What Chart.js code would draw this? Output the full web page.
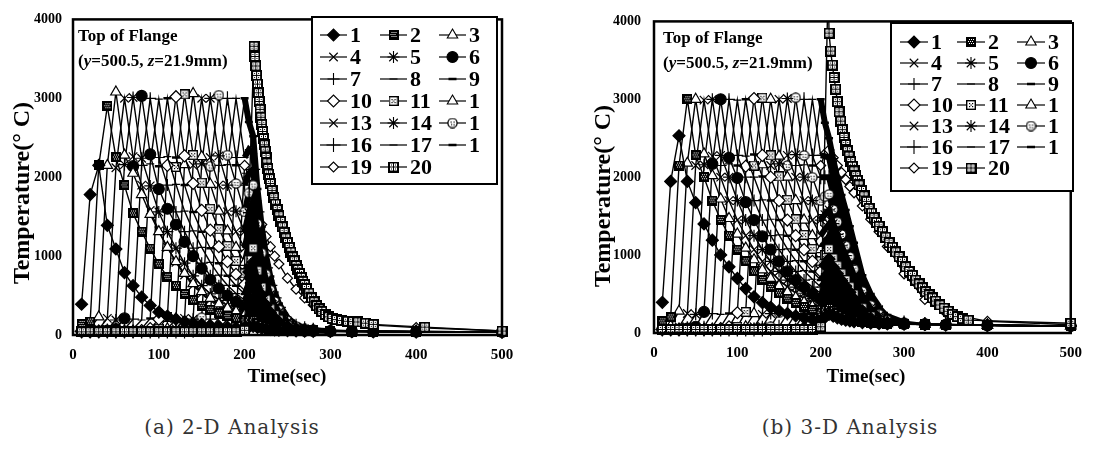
<!DOCTYPE html>
<html>
<head>
<meta charset="utf-8">
<script src="https://cdn.jsdelivr.net/npm/chart.js@4.4.1/dist/chart.umd.min.js"></script>
<style>
  body { margin: 0; background: #fff; width: 1093px; height: 455px; position: relative; overflow: hidden; }
  canvas { position: absolute; top: 0; }
  #chartA { left: 0; }
  #chartB { left: 546px; }
  .caption { position: absolute; top: 415px; font: 20px "DejaVu Serif", serif; color: #333; white-space: nowrap; transform: translateX(-50%); letter-spacing: 1px; }
</style>
</head>
<body>
<canvas id="chartA" width="546" height="400"></canvas>
<canvas id="chartB" width="547" height="400"></canvas>
<div class="caption" style="left:232px">(a) 2-D Analysis</div>
<div class="caption" style="left:850px">(b) 3-D Analysis</div>
<script>
// time steps (sec): heating phase, then cooling phase
const heatTimes = [10,20,30,40,50,60,70,80,90,100,110,120,130,140,150,160,170,180,190,200];
const coolTimes = [205,210,215,220,225,230,235,240,250,260,270,280,300,325,350,400,500];
const legendLabels = ['1','2','3','4','5','6','7','8','9','10','11','1','13','14','1','16','17','1','19','20'];

// ---- (a) 2-D analysis, series 1..19 : 20 heating values + 17 cooling values
const a1  = [390,1780,2150,1390,1090,790,625,480,375,290,240,200,170,150,135,120,110,100,95,90, 100,110,95,84,76,70,65,61,56,52,49,47,45,44,43,41,40];
const a2  = [140,170,2150,2900,2250,1896,1540,1310,1096,896,737,625,520,440,370,320,275,240,210,185, 185,185,150,125,106,92,81,73,61,54,50,48,46,44,43,41,40];
const a3  = [45,80,230,2150,3080,2280,2050,1780,1530,1310,1110,930,780,650,550,465,395,340,295,255, 260,265,210,168,137,114,97,84,67,58,53,50,48,45,43,42,40];
const a4  = [45,50,75,210,2120,3000,2260,1900,1580,1320,1110,920,760,630,525,445,375,320,275,240, 250,260,205,163,132,110,94,82,66,57,52,50,47,45,43,42,40];
const a5  = [45,45,50,70,190,2160,3010,2240,1890,1560,1310,1100,910,750,625,520,440,370,320,275, 300,320,245,190,152,124,104,90,70,59,53,50,48,46,44,42,40];
const a6  = [45,45,45,55,75,210,2140,3030,2290,1850,1600,1400,1180,1000,840,700,590,500,420,360, 390,420,315,240,186,148,121,102,77,63,55,51,48,46,44,42,40];
const a7  = [45,45,45,45,55,75,200,2150,3000,2250,1900,1560,1310,1100,910,750,625,520,440,370, 440,500,375,285,218,170,137,112,82,65,56,52,49,46,44,42,40];
const a8  = [45,45,45,45,45,55,75,190,2170,2990,2260,1910,1570,1320,1110,920,760,630,525,440, 540,620,460,345,260,200,158,126,90,68,58,53,50,47,44,42,40];
const a9  = [45,45,45,45,45,45,55,80,210,2140,3000,2250,1900,1560,1310,1100,910,750,625,520, 660,760,565,420,315,240,185,145,98,72,60,55,50,47,44,42,40];
const a10 = [45,45,45,45,45,45,45,55,80,200,2150,3020,2270,1920,1580,1330,1120,930,770,640, 800,920,680,505,380,285,215,168,108,76,62,56,51,48,45,42,40];
const a11 = [45,45,45,45,45,45,45,45,55,80,230,2130,3050,2280,1930,1600,1340,1130,940,780, 950,1100,815,605,450,335,255,195,120,82,65,58,52,48,45,42,40];
const a12 = [45,45,45,45,45,45,45,45,45,55,80,200,2160,3060,2260,1910,1570,1320,1110,920, 1150,1300,960,710,530,395,295,225,135,88,68,60,53,49,45,42,40];
const a13 = [45,45,45,45,45,45,45,45,45,45,55,80,210,2150,3000,2250,1900,1560,1310,1100, 1350,1500,1110,820,610,450,335,255,150,95,72,62,54,50,46,42,40];
const a14 = [45,45,45,45,45,45,45,45,45,45,45,55,80,200,2170,3000,2270,1900,1570,1310, 1550,1700,1260,930,690,510,380,285,165,102,76,64,55,50,46,43,40];
const a15 = [45,45,45,45,45,45,45,45,45,45,45,45,55,80,220,2140,3040,2280,1920,1560, 1800,1900,1410,1040,770,570,425,320,180,110,80,66,56,51,47,43,40];
const a16 = [45,45,45,45,45,45,45,45,45,45,45,45,45,55,80,200,2150,3000,2250,1900, 2050,2100,1560,1150,850,630,470,350,195,118,85,68,57,52,48,44,40];
const a17 = [45,45,45,45,45,45,45,45,45,45,45,45,45,45,55,80,210,2160,3000,2250, 2350,2300,1700,1260,930,690,510,380,210,125,88,70,58,53,48,44,40];
const a18 = [45,45,45,45,45,45,45,45,45,45,45,45,45,45,45,55,80,200,2150,3000, 2700,2520,1850,1370,1010,740,540,400,220,130,90,72,60,55,50,45,40];
const a19 = [45,45,45,45,45,45,45,45,45,45,45,45,45,45,45,45,55,80,210,2150, 2000,1750,1560,1400,1250,1120,1000,900,720,580,470,380,210,150,125,95,50];
// series 20 (a): heating values, then its own dense cooling record
const a20Heat = [40,40,40,40,40,40,40,40,40,40,40,40,40,40,40,40,40,40,40,60];
const a20CoolTimes = [211,212,213,214,215,216,217,218,219,220,221,222,223,224,225,226,227,228,229,230,
  232,234,236,238,240,242,244,246,248,250,252,254,256,258,260,262,264,266,268,270,
  272,275,278,281,284,287,290,294,298,302,307,313,320,326,332,341,350,410,500];
const a20Cool = [3660,3530,3410,3290,3180,3070,2960,2860,2760,2670,2580,2490,2410,2330,2250,2180,2110,2040,1980,1920,
  1830,1740,1660,1590,1510,1440,1370,1300,1230,1170,1110,1050,990,940,880,830,780,730,680,640,
  590,530,470,420,370,330,300,260,230,210,195,185,175,170,165,150,135,100,50];

// ---- (b) 3-D analysis
const b1  = [394,1946,2532,1946,1673,1400,1191,1002,850,700,570,465,390,330,285,250,220,195,172,155, 200,240,215,195,178,165,155,146,134,126,121,118,113,109,105,98,90];
const b2  = [150,200,2150,3000,2280,2000,1700,1450,1250,1070,920,790,680,590,510,440,385,335,295,260, 290,320,285,256,227,202,180,160,138,129,123,119,114,109,105,98,90];
const b3  = [45,90,280,2180,3000,2300,2020,1720,1470,1270,1090,940,810,700,605,525,455,395,345,300, 330,360,320,288,256,227,198,170,143,132,125,120,114,110,105,98,90];
const b4  = [45,50,80,250,2150,2990,2270,2000,1700,1450,1250,1070,920,790,680,590,510,440,385,335, 370,410,365,328,291,258,226,190,150,136,127,121,115,110,105,98,90];
const b5  = [45,45,50,75,240,2160,3000,2280,2000,1700,1450,1250,1070,920,790,680,590,510,440,385, 430,470,418,376,334,296,258,216,160,140,129,122,116,110,105,98,90];
const b6  = [45,45,45,55,80,270,2170,3000,2250,1990,1680,1450,1240,1070,920,790,680,590,510,440, 490,540,480,432,383,340,297,248,172,145,131,124,117,111,106,98,90];
const b7  = [45,45,45,45,55,80,250,2150,3000,2280,2000,1700,1450,1250,1070,920,790,680,590,510, 565,620,552,496,440,390,341,285,190,150,134,125,117,111,106,98,90];
const b8  = [45,45,45,45,45,55,80,240,2170,2990,2270,2000,1710,1460,1260,1080,930,800,690,590, 655,720,640,576,511,454,396,331,216,160,137,127,118,112,106,99,90];
const b9  = [45,45,45,45,45,45,55,80,250,2150,3000,2290,2010,1700,1450,1250,1070,920,790,680, 755,830,740,665,590,523,457,382,250,172,140,128,119,112,107,99,90];
const b10 = [45,45,45,45,45,45,45,55,80,260,2140,3010,2280,2000,1700,1450,1250,1070,920,790, 870,950,845,760,675,600,523,437,285,190,145,130,120,113,107,99,90];
const b11 = [45,45,45,45,45,45,45,45,55,80,270,2150,3020,2280,2010,1710,1460,1260,1080,920, 1000,1080,960,865,765,680,595,497,324,216,155,132,121,113,107,99,90];
const b12 = [45,45,45,45,45,45,45,45,45,55,80,250,2160,3000,2270,2000,1700,1450,1250,1070, 1150,1230,1095,985,875,775,675,565,370,246,170,135,122,114,108,99,90];
const b13 = [45,45,45,45,45,45,45,45,45,45,55,80,240,2150,3000,2280,2000,1700,1450,1250, 1330,1400,1245,1120,995,880,770,645,420,280,190,140,124,114,108,100,90];
const b14 = [45,45,45,45,45,45,45,45,45,45,45,55,80,250,2170,3010,2290,2000,1700,1450, 1520,1580,1405,1265,1120,995,870,727,474,316,215,150,126,115,108,100,90];
const b15 = [45,45,45,45,45,45,45,45,45,45,45,45,55,80,260,2150,3020,2280,2000,1700, 1750,1780,1585,1425,1265,1120,980,820,535,356,242,164,130,116,109,100,90];
const b16 = [45,45,45,45,45,45,45,45,45,45,45,45,45,55,80,250,2150,3000,2280,2000, 2000,2000,1780,1600,1420,1260,1100,920,600,400,272,184,135,117,109,100,90];
const b17 = [45,45,45,45,45,45,45,45,45,45,45,45,45,45,55,80,250,2160,3000,2280, 2270,2250,2000,1800,1600,1420,1240,1035,675,450,306,207,140,118,110,100,90];
const b18 = [45,45,45,45,45,45,45,45,45,45,45,45,45,45,45,55,80,250,2150,3000, 2700,2500,2230,1990,1770,1580,1370,1160,740,500,340,230,150,120,110,100,90];
const b19 = [45,45,45,45,45,45,45,45,45,45,45,45,45,45,45,45,55,80,260,2150, 2300,2350,2250,2150,2060,1970,1880,1800,1630,1460,1300,1110,760,430,260,150,105];
const b20Heat = [45,45,45,45,45,45,45,45,45,45,45,45,45,45,45,45,45,45,45,80];
const b20CoolTimes = [209,210,212,214,216,218,220,222,224,226,228,230,232,234,236,238,240,242,244,246,
  249,252,255,258,261,264,267,270,274,278,282,286,290,294,298,302,306,310,314,318,322,326,330,334,338,
  343,348,353,358,364,370,377,500];
const b20Cool = [4500,3850,3620,3440,3280,3130,2970,2840,2720,2610,2510,2420,2340,2270,2200,2140,2080,2020,1960,1900,
  1830,1760,1690,1600,1540,1480,1420,1370,1300,1230,1160,1100,1040,980,920,850,790,740,680,630,580,530,490,450,410,
  360,320,280,240,210,185,165,125];

const seriesA = [a1,a2,a3,a4,a5,a6,a7,a8,a9,a10,a11,a12,a13,a14,a15,a16,a17,a18,a19];
const seriesB = [b1,b2,b3,b4,b5,b6,b7,b8,b9,b10,b11,b12,b13,b14,b15,b16,b17,b18,b19];

// ---- marker glyphs
function glyph(w, h, draw) {
  const c = document.createElement('canvas');
  c.width = w; c.height = h;
  draw(c.getContext('2d'), w, h);
  return c;
}
const sqDark = glyph(10, 10, (g, w, h) => {
  g.fillStyle = '#000'; g.fillRect(0, 0, w, h);
  g.fillStyle = '#fff';
  for (let y = 2; y < h - 2; y += 2) for (let x = 2; x < w - 2; x += 2) g.fillRect(x + (y % 4 ? 1 : 0), y, 1, 1);
});
const sqOpen = glyph(10, 10, (g, w, h) => {
  g.fillStyle = '#fff'; g.fillRect(0, 0, w, h);
  g.strokeStyle = '#000'; g.lineWidth = 1.4; g.strokeRect(0.7, 0.7, w - 1.4, h - 1.4);
  g.fillStyle = '#000'; [[3,3],[6,3],[3,6],[6,6],[4.5,4.5]].forEach(([x, y]) => g.fillRect(x, y, 1.2, 1.2));
});
const sqPattern = glyph(11, 11, (g, w, h) => {
  g.fillStyle = '#000'; g.fillRect(0, 0, w, h);
  g.fillStyle = '#fff';
  [[2,2],[6,2],[2,6],[6,6]].forEach(([x, y]) => { g.fillRect(x, y, 3, 3); });
  g.fillStyle = '#000';
  [[3,3],[7,3],[3,7],[7,7]].forEach(([x, y]) => g.fillRect(x, y, 1, 1));
});
const circDots = glyph(11, 11, (g, w, h) => {
  g.fillStyle = '#fff'; g.strokeStyle = '#000'; g.lineWidth = 1.3;
  g.beginPath(); g.arc(w / 2, h / 2, 4.6, 0, Math.PI * 2); g.fill(); g.stroke();
  g.fillStyle = '#000'; [[3.5,4],[6.5,4],[4,6.5],[6.5,6.8]].forEach(([x, y]) => g.fillRect(x, y, 1.2, 1.2));
});

const markers = [
  { ps: 'rectRot', r: 6, fill: '#000' },   // 1
  { ps: sqDark, r: 5 },                    // 2
  { ps: 'triangle', r: 6, fill: '#fff' },  // 3
  { ps: 'crossRot', r: 6 },                // 4
  { ps: 'star', r: 6 },                    // 5
  { ps: 'circle', r: 5.5, fill: '#000' },  // 6
  { ps: 'cross', r: 6 },                   // 7
  { ps: 'line', r: 4 },                    // 8
  { ps: 'line', r: 4, bw: 2.5 },           // 9
  { ps: 'rectRot', r: 6, fill: '#fff' },   // 10
  { ps: sqOpen, r: 5 },                    // 11
  { ps: 'triangle', r: 6, fill: '#fff' },  // 12
  { ps: 'crossRot', r: 6 },                // 13
  { ps: 'star', r: 6 },                    // 14
  { ps: circDots, r: 5 },                  // 15
  { ps: 'cross', r: 7 },                   // 16
  { ps: 'line', r: 4 },                    // 17
  { ps: 'line', r: 4, bw: 2.5 },           // 18
  { ps: 'rectRot', r: 5, fill: '#fff' },   // 19
  { ps: sqPattern, r: 5 }                  // 20
];

function toPoints(ts, vs) { return ts.map((t, i) => ({ x: t, y: vs[i] })); }
const allTimes = heatTimes.concat(coolTimes);

// the quench region right after the last pass reads as a solid dark mass in the scan
const inQuench = (x) => x > 200 && x < 290;
function quenchWidth(c) {
  const x0 = c.p0.parsed.x, x1 = c.p1.parsed.x;
  if (x1 > 200 && x0 < 265) return 6;
  if (x1 > 200 && x0 < 295) return 4;
  return 1.4;
}

function styleFor(i, dark) {
  const m = markers[i];
  const fill = m.fill || '#fff';
  return {
    borderColor: '#000', borderWidth: 1.4, tension: 0,
    pointStyle: m.ps, pointRadius: m.r,
    pointBackgroundColor: dark ? (c) => (c.parsed && inQuench(c.parsed.x) ? '#000' : fill) : fill,
    pointBorderColor: '#000',
    pointBorderWidth: m.bw || 1.2,
    segment: dark ? { borderWidth: quenchWidth } : undefined,
    clip: { left: 6, right: 6, top: 0, bottom: 6 }
  };
}

function buildDatasets(list, heat20, coolT20, cool20, slowIdx) {
  const ds = list.map((vals, i) => Object.assign({ label: String(i + 1), data: toPoints(allTimes, vals) }, styleFor(i, i !== slowIdx)));
  ds.push(Object.assign({ label: '20', order: -1,
    data: toPoints(heatTimes, heat20).concat(toPoints(coolT20, cool20)) }, styleFor(19, false)));
  return ds;
}

const SERIF = '"Liberation Serif", "Times New Roman", serif';

function drawMarker(ctx, i, x, y) {
  const m = markers[i];
  ctx.save();
  ctx.fillStyle = m.fill || '#fff';
  ctx.strokeStyle = '#000';
  ctx.lineWidth = m.bw || 1.1;
  Chart.helpers.drawPoint(ctx, { pointStyle: m.ps, radius: m.r, borderWidth: m.bw || 1.1, rotation: 0 }, x, y);
  ctx.restore();
}

function decor(geo) {
  return {
    id: 'decor',
    afterDraw(chart) {
      const ctx = chart.ctx;
      const a = chart.chartArea;
      ctx.save();
      // frame
      ctx.strokeStyle = '#000';
      ctx.lineWidth = 2.5;
      ctx.strokeRect(a.left, a.top, a.right - a.left, a.bottom - a.top);
      // axis titles
      ctx.fillStyle = '#000';
      ctx.textAlign = 'center';
      ctx.textBaseline = 'middle';
      ctx.font = 'bold 19px ' + SERIF;
      ctx.fillText('Time(sec)', geo.xTitle[0], geo.xTitle[1]);
      ctx.save();
      ctx.translate(geo.yTitle[0], geo.yTitle[1]);
      ctx.rotate(-Math.PI / 2);
      ctx.font = 'bold 24px ' + SERIF;
      ctx.fillText('Temperature(° C)', 0, 0);
      ctx.restore();
      // note
      ctx.textAlign = 'left';
      ctx.textBaseline = 'alphabetic';
      ctx.font = 'bold 17px ' + SERIF;
      ctx.fillText('Top of Flange', geo.note[0], geo.note[1]);
      let cx = geo.note[0];
      [['(', false], ['y', true], ['=500.5, ', false], ['z', true], ['=21.9mm)', false]].forEach(([t, it]) => {
        ctx.font = (it ? 'italic bold 17px ' : 'bold 17px ') + SERIF;
        ctx.fillText(t, cx, geo.note[2]);
        cx += ctx.measureText(t).width;
      });
      // legend box
      const L = geo.legend;
      ctx.fillStyle = '#fff';
      ctx.fillRect(L.x, L.y, L.w, L.h);
      ctx.lineWidth = 2;
      ctx.strokeStyle = '#000';
      ctx.strokeRect(L.x, L.y, L.w, L.h);
      ctx.font = 'bold 22px ' + SERIF;
      ctx.textBaseline = 'middle';
      legendLabels.forEach((lab, i) => {
        const col = i % 3, row = Math.floor(i / 3);
        const x0 = L.cols[col], y = L.row0 + row * L.dy;
        ctx.strokeStyle = '#000';
        ctx.lineWidth = 1.2;
        ctx.beginPath(); ctx.moveTo(x0, y); ctx.lineTo(x0 + L.len, y); ctx.stroke();
        drawMarker(ctx, i, x0 + L.len / 2, y);
        ctx.fillStyle = '#000';
        ctx.fillText(lab, x0 + L.len + 3, y + 1);
      });
      ctx.restore();
    }
  };
}

function makeChart(id, datasets, geo) {
  const tickFont = (size) => ({ family: SERIF, weight: 'bold', size: size });
  return new Chart(document.getElementById(id), {
    type: 'line',
    data: { datasets: datasets },
    options: {
      responsive: false,
      animation: false,
      events: [],
      layout: { padding: { top: 15, right: geo.padRight, left: 0, bottom: 0 } },
      plugins: { legend: { display: false }, tooltip: { enabled: false } },
      scales: {
        x: {
          type: 'linear', min: 0, max: 500,
          afterFit: (s) => { s.height = geo.xH; },
          grid: { display: false, drawTicks: false },
          border: { display: false },
          ticks: { stepSize: 100, padding: 11, color: '#000', font: tickFont(15), maxRotation: 0, callback: (v) => String(v) }
        },
        y: {
          min: 0, max: 4000,
          afterFit: (s) => { s.width = geo.yW; },
          grid: { display: false, drawTicks: false },
          border: { display: false },
          ticks: { stepSize: 1000, padding: geo.yPad, color: '#000', font: tickFont(14), callback: (v) => String(v) }
        }
      }
    },
    plugins: [decor(geo)]
  });
}

makeChart('chartA', buildDatasets(seriesA, a20Heat, a20CoolTimes, a20Cool, 18), {
  padRight: 44, xH: 65, yW: 73, yPad: 11,
  xTitle: [287, 377], yTitle: [23, 193], note: [78, 41, 66],
  legend: { x: 312, y: 17, w: 185, h: 167, cols: [320, 380, 439], len: 27, row0: 35, dy: 22 }
});
makeChart('chartB', buildDatasets(seriesB, b20Heat, b20CoolTimes, b20Cool, 18), {
  padRight: 14, xH: 67, yW: 108, yPad: 13,
  xTitle: [320, 377], yTitle: [58, 196], note: [117, 43, 68],
  legend: { x: 345, y: 23, w: 182, h: 168, cols: [354, 411, 471], len: 28, row0: 42, dy: 21 }
});
</script>
</body>
</html>
